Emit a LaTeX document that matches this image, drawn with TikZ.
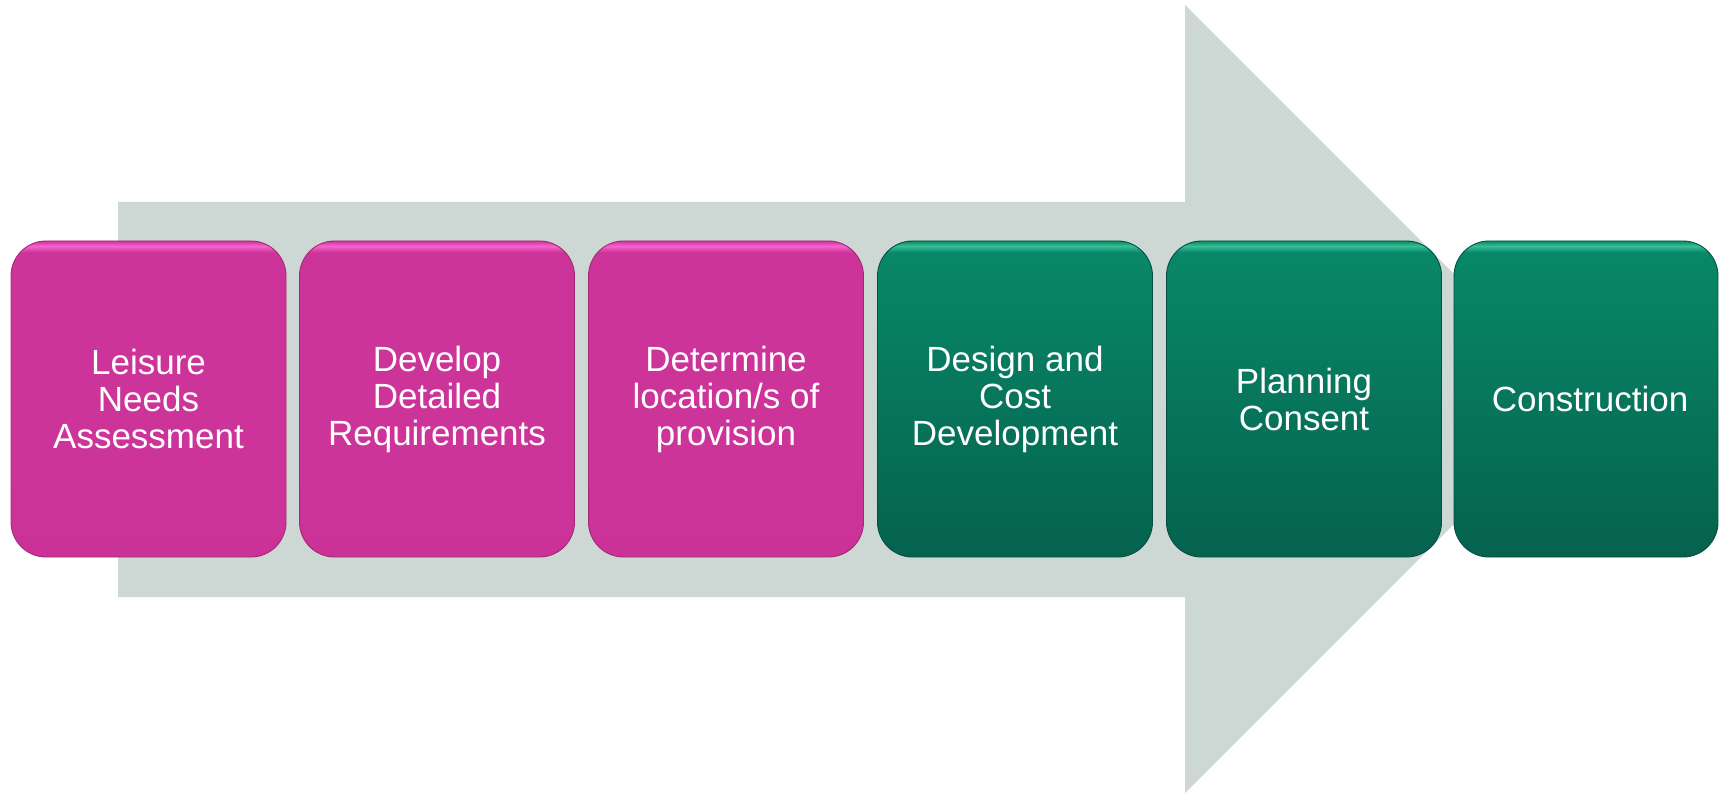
\documentclass[tikz,border=0pt]{standalone}
\usepackage{fontspec}
\setmainfont{Liberation Sans}
\definecolor{arrowgray}{RGB}{205,215,211}
\definecolor{magbot}{RGB}{202,50,151}
\definecolor{magmid}{RGB}{205,52,153}
\definecolor{magtop}{RGB}{245,100,205}
\definecolor{magedge}{RGB}{165,40,120}
\definecolor{grnbot}{RGB}{5,98,78}
\definecolor{grnmid}{RGB}{8,136,104}
\definecolor{grntop}{RGB}{55,190,150}
\definecolor{grnedge}{RGB}{4,80,62}
\pgfdeclareverticalshading{magshade}{100bp}{color(0bp)=(magbot); color(25bp)=(magbot); color(40bp)=(magmid); color(73.2bp)=(magmid); color(74.2bp)=(magtop); color(75bp)=(magmid); color(100bp)=(magmid)}
\pgfdeclareverticalshading{grnshade}{100bp}{color(0bp)=(grnbot); color(25bp)=(grnbot); color(73.2bp)=(grnmid); color(74.2bp)=(grntop); color(75bp)=(grnmid); color(100bp)=(grnmid)}
\tikzset{
  stagebox/.style={rectangle, rounded corners=35pt, minimum width=275pt, minimum height=316pt,
    inner sep=0pt, align=center, text=white, line width=0.9pt,
    font=\fontsize{35}{37}\selectfont},
  magbox/.style={stagebox, shading=magshade, draw=magedge},
  grnbox/.style={stagebox, shading=grnshade, draw=grnedge},
}
\begin{document}
\begin{tikzpicture}[x=1pt,y=-1pt]
\useasboundingbox (0,0) rectangle (1720,794);
% big background arrow
\fill[arrowgray] (118,202) -- (1185,202) -- (1185,5) -- (1579,399) -- (1185,793) -- (1185,597) -- (118,597) -- cycle;
% stages
\node[magbox] (s1) at (148.5,399) {Leisure\\Needs\\Assessment};
\node[magbox] (s2) at (437,399) {Develop\\Detailed\\Requirements};
\node[magbox] (s3) at (726,399) {Determine\\location/s of\\provision};
\node[grnbox] (s4) at (1015,399) {Design and\\Cost\\Development};
\node[grnbox] (s5) at (1304,399) {Planning\\Consent};
\node[grnbox, minimum width=264pt] (s6) at (1586,399) {\hspace*{8pt}Construction};
\end{tikzpicture}
\end{document}
